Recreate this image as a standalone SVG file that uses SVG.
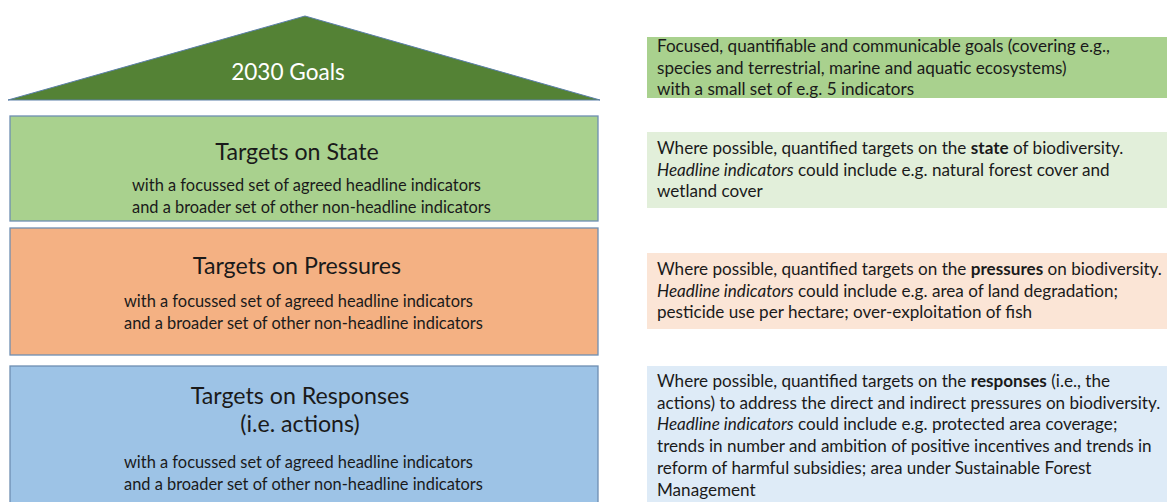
<svg xmlns="http://www.w3.org/2000/svg" width="1167" height="502" viewBox="0 0 1167 502">
<style>
text{font-family:Lato,"Open Sans","Liberation Sans",sans-serif;fill:#1a1a1a}
.box{stroke:#6E8EB2;stroke-width:1.3}
.title{font-size:23.2px;text-anchor:middle}
.sub{font-size:16.4px}
.desc{font-size:17.1px}
.goal{font-size:22.6px;fill:#ffffff;text-anchor:middle}
.b{font-weight:bold}
.i{font-style:italic}
</style>
<rect width="1167" height="502" fill="#ffffff"/>
<g id="goals">
<polygon points="305,16 600,100 8,100" fill="#548235" stroke="#5B7FA8" stroke-width="1"/>
<text class="goal" x="288" y="80">2030 Goals</text>
</g>
<g id="state">
<rect class="box" x="10" y="116" width="588" height="105" fill="#A9D18E"/>
<text class="title" x="297" y="160">Targets on State</text>
<text class="sub" x="132" y="191">with a focussed set of agreed headline indicators</text>
<text class="sub" x="132" y="213">and a broader set of other non-headline indicators</text>
</g>
<g id="pressures">
<rect class="box" x="10" y="228" width="588" height="127" fill="#F4B183"/>
<text class="title" x="297" y="274">Targets on Pressures</text>
<text class="sub" x="124" y="307">with a focussed set of agreed headline indicators</text>
<text class="sub" x="124" y="329">and a broader set of other non-headline indicators</text>
</g>
<g id="responses">
<rect class="box" x="10" y="366" width="588" height="140" fill="#9DC3E6"/>
<text class="title" x="300" y="404">Targets on Responses</text>
<text class="title" x="300" y="432">(i.e. actions)</text>
<text class="sub" x="124" y="468">with a focussed set of agreed headline indicators</text>
<text class="sub" x="124" y="490">and a broader set of other non-headline indicators</text>
</g>
<g id="goals-desc">
<rect x="647" y="37" width="520" height="61" fill="#A9D18E"/>
<text class="desc" x="657" y="52">Focused, quantifiable and communicable goals (covering e.g.,</text>
<text class="desc" x="657" y="74">species and terrestrial, marine and aquatic ecosystems)</text>
<text class="desc" x="657" y="95">with a small set of e.g. 5 indicators</text>
</g>
<g id="state-desc">
<rect x="647" y="132" width="520" height="76" fill="#E2EFDA"/>
<text class="desc" x="657" y="154">Where possible, quantified targets on the <tspan class="b">state</tspan> of biodiversity.</text>
<text class="desc" x="657" y="176"><tspan class="i">Headline indicators</tspan> could include e.g. natural forest cover and</text>
<text class="desc" x="657" y="197">wetland cover</text>
</g>
<g id="pressures-desc">
<rect x="647" y="253" width="520" height="76" fill="#FBE5D6"/>
<text class="desc" x="657" y="275">Where possible, quantified targets on the <tspan class="b">pressures</tspan> on biodiversity.</text>
<text class="desc" x="657" y="297"><tspan class="i">Headline indicators</tspan> could include e.g. area of land degradation;</text>
<text class="desc" x="657" y="318">pesticide use per hectare; over-exploitation of fish</text>
</g>
<g id="responses-desc">
<rect x="647" y="366" width="520" height="140" fill="#DEEBF7"/>
<text class="desc" x="657" y="387">Where possible, quantified targets on the <tspan class="b">responses</tspan> (i.e., the</text>
<text class="desc" x="657" y="409">actions) to address the direct and indirect pressures on biodiversity.</text>
<text class="desc" x="657" y="430"><tspan class="i">Headline indicators</tspan> could include e.g. protected area coverage;</text>
<text class="desc" x="657" y="452">trends in number and ambition of positive incentives and trends in</text>
<text class="desc" x="657" y="474">reform of harmful subsidies; area under Sustainable Forest</text>
<text class="desc" x="657" y="496">Management</text>
</g>
<g id="connectors"></g>
</svg>
